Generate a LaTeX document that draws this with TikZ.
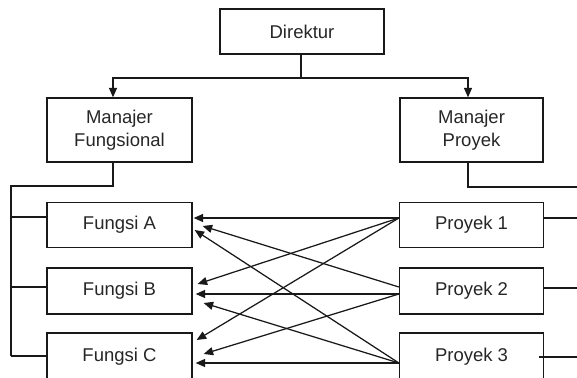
\documentclass[tikz,border=0pt]{standalone}
\usepackage{fontspec}
\setmainfont{Liberation Sans}
\usetikzlibrary{arrows.meta}

\begin{document}
\begin{tikzpicture}[x=1pt,y=-1pt,
  line width=1.25pt, color=black!90,
  box/.style={draw, rectangle, inner sep=0pt,
              minimum width=145pt, font=\fontsize{18.5}{23}\selectfont,
              text=black!85, align=center},
  flow/.style={-{Triangle[length=9.5pt,width=8pt]}},
]
\useasboundingbox (0,0) rectangle (577,377);
\clip (0,0) rectangle (577,377);

% top of the hierarchy
\node[box, minimum width=164pt, minimum height=45pt] (dir) at (302,31.5) {Direktur};
\node[box, minimum height=64pt] (mf) at (119.5,130) {Manajer\\Fungsional};
\node[box, minimum width=143pt, minimum height=64pt] (mp) at (471.5,130) {Manajer\\Proyek};

% functions (left column)
\node[box, minimum height=45pt] (fa) at (119.5,225) {Fungsi A};
\node[box, minimum height=46pt] (fb) at (119.5,291) {Fungsi B};
\node[box, minimum height=48pt] (fc) at (119.5,357) {Fungsi C};

% projects (right column)
\node[box, minimum width=144pt, minimum height=45pt] (p1) at (471.5,225) {Proyek 1};
\node[box, minimum width=144pt, minimum height=46pt] (p2) at (471.5,291) {Proyek 2};
\node[box, minimum width=144pt, minimum height=48pt] (p3) at (471.5,357) {Proyek 3};

% director to both managers
\coordinate (split) at (301,78);
\draw ([xshift=-1pt]dir.south) -- (split);
\draw[flow] (split) -| ([xshift=-6.5pt]mf.north);
\draw[flow] (split) -| ([xshift=-3.5pt]mp.north);

% functional manager bus on the left
\coordinate (lbus) at (11,186);
\coordinate (lend) at (11,356);
\draw ([xshift=-6.5pt]mf.south) |- (lbus) -- (lend);
\draw (11,217) -- ([yshift=8pt]fa.west);
\draw (11,287) -- ([yshift=4pt]fb.west);
\draw (lend) -- ([yshift=1pt]fc.west);

% project manager bus on the right
\coordinate (rbus) at (577,187);
\draw ([xshift=-3.5pt]mp.south) |- (rbus);
\coordinate (r1) at (577,218);
\coordinate (r2) at (577,288);
\coordinate (r3) at (577,357);
\draw ([yshift=7pt]p1.east) -- (r1);
\draw ([yshift=3pt]p2.east) -- (r2);
\draw ([xshift=-5pt]p3.east) -- (r3);

% every project reaches every function
\draw[flow] ([yshift=7pt]p1.west) -- ([xshift=1pt,yshift=7pt]fa.east);
\draw[flow] ([yshift=7pt]p1.west) -- ([xshift=5pt,yshift=7pt]fb.east);
\draw[flow] ([yshift=7pt]p1.west) -- ([xshift=4pt,yshift=17pt]fc.east);

\draw[flow] ([yshift=4pt]p2.west) -- ([xshift=10pt,yshift=-1pt]fa.east);
\draw[flow] ([yshift=-3pt]p2.west) -- ([xshift=3pt,yshift=-3pt]fb.east);
\draw[flow] ([yshift=-3pt]p2.west) -- ([xshift=11pt,yshift=3pt]fc.east);

\draw[flow] ([yshift=-6pt]p3.west) -- ([xshift=2pt,yshift=-5pt]fa.east);
\draw[flow] ([yshift=-6pt]p3.west) -- ([xshift=11pt,yshift=-12pt]fb.east);
\draw[flow] ([yshift=-6pt]p3.west) -- ([xshift=3pt,yshift=-6pt]fc.east);
\end{tikzpicture}
\end{document}
